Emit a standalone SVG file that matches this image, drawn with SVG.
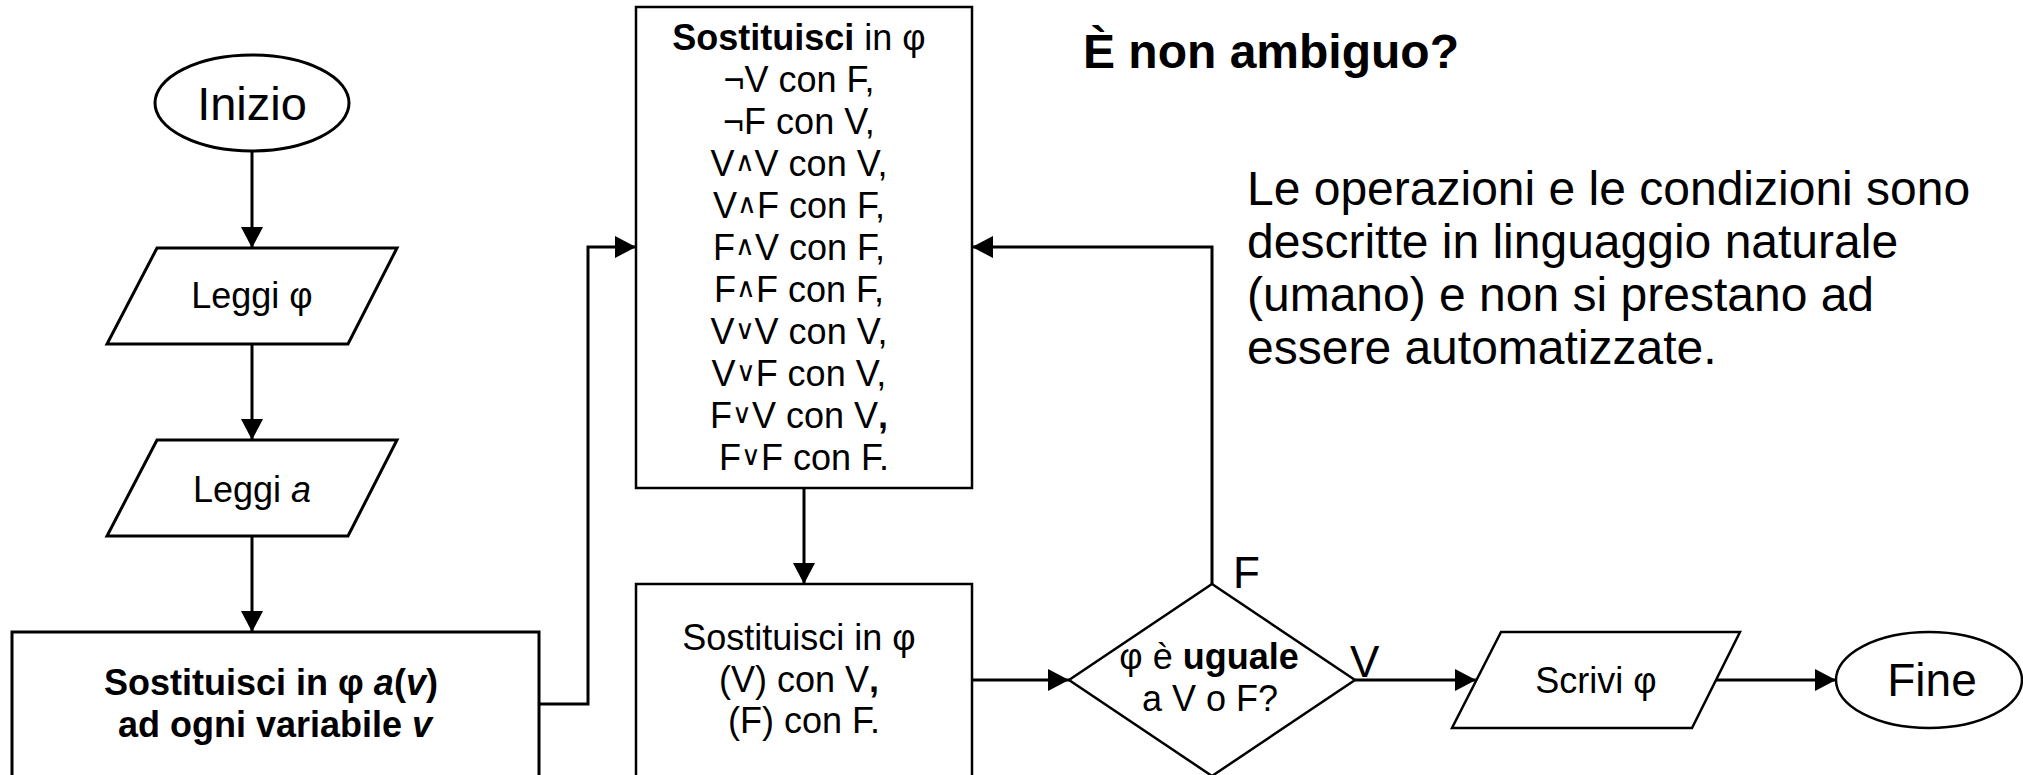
<svg xmlns="http://www.w3.org/2000/svg" width="2023" height="775" viewBox="0 0 2023 775">
<style>
text{font-family:"Liberation Sans",Arial,sans-serif;fill:#000}
.s{fill:#fff;stroke:#000;stroke-width:3}
.t{fill:#fff;stroke:#000;stroke-width:2.5}
.c{fill:none;stroke:#000;stroke-width:3}
.b{font-weight:bold}
.i{font-style:italic}
.op{font-size:27px}
</style>
<defs>
<marker id="ah" markerWidth="22" markerHeight="22" refX="21" refY="11" orient="auto" markerUnits="userSpaceOnUse">
<path d="M0,0 L21,11 L0,22 Z" fill="#000"/>
</marker>
</defs>
<rect width="2023" height="775" fill="#fff"/>

<g id="connectors">
<path class="c" d="M252,151 V248" marker-end="url(#ah)"/>
<path class="c" d="M252,344 V440" marker-end="url(#ah)"/>
<path class="c" d="M252,536 V632" marker-end="url(#ah)"/>
<path class="c" d="M539,704 H588 V247 H636" marker-end="url(#ah)"/>
<path class="c" d="M804,488 V584" marker-end="url(#ah)"/>
<path class="c" d="M972,680 H1069" marker-end="url(#ah)"/>
<path class="c" d="M1212,584 V247 H972" marker-end="url(#ah)"/>
<path class="c" d="M1355,680 H1476" marker-end="url(#ah)"/>
<path class="c" d="M1716,680 H1836" marker-end="url(#ah)"/>
<text x="1233" y="588" font-size="44">F</text>
<text x="1350" y="677" font-size="44">V</text>
</g>

<g id="inizio">
<ellipse class="s" cx="252" cy="103" rx="97" ry="48"/>
<text x="252" y="120" font-size="47" text-anchor="middle">Inizio</text>
</g>

<g id="leggi-phi">
<polygon class="s" points="157,248 397,248 348,344 107,344"/>
<text x="252" y="308" font-size="36" text-anchor="middle">Leggi φ</text>
</g>

<g id="leggi-a">
<polygon class="s" points="157,440 397,440 348,536 107,536"/>
<text x="252" y="502" font-size="36" text-anchor="middle">Leggi <tspan class="i">a</tspan></text>
</g>

<g id="sostituisci-var">
<rect class="s" x="12" y="632" width="527" height="200"/>
<text x="271" y="695" font-size="36" class="b" text-anchor="middle">Sostituisci in φ <tspan class="i">a</tspan>(<tspan class="i">v</tspan>)</text>
<text x="275" y="737" font-size="36" class="b" text-anchor="middle">ad ogni variabile <tspan class="i">v</tspan></text>
</g>

<g id="sostituisci-op">
<rect class="t" x="636" y="7" width="336" height="481"/>
<text font-size="36" text-anchor="middle">
<tspan x="804" y="50"><tspan class="b">Sostituisci</tspan> in φ</tspan>
<tspan x="804" y="92">¬V con F,</tspan>
<tspan x="804" y="134">¬F con V,</tspan>
<tspan x="804" y="176">V<tspan class="op" dy="-5">∧</tspan><tspan dy="5">V con V,</tspan></tspan>
<tspan x="804" y="218">V<tspan class="op" dy="-5">∧</tspan><tspan dy="5">F con F,</tspan></tspan>
<tspan x="804" y="260">F<tspan class="op" dy="-5">∧</tspan><tspan dy="5">V con F,</tspan></tspan>
<tspan x="804" y="302">F<tspan class="op" dy="-5">∧</tspan><tspan dy="5">F con F,</tspan></tspan>
<tspan x="804" y="344">V<tspan class="op" dy="-5">∨</tspan><tspan dy="5">V con V,</tspan></tspan>
<tspan x="804" y="386">V<tspan class="op" dy="-5">∨</tspan><tspan dy="5">F con V,</tspan></tspan>
<tspan x="804" y="428">F<tspan class="op" dy="-5">∨</tspan><tspan dy="5">V con V<tspan class="b">,</tspan></tspan></tspan>
<tspan x="804" y="470">F<tspan class="op" dy="-5">∨</tspan><tspan dy="5">F con F.</tspan></tspan>
</text>
</g>

<g id="sostituisci-par">
<rect class="t" x="636" y="584" width="336" height="250"/>
<text font-size="36" text-anchor="middle">
<tspan x="804" y="650">Sostituisci in φ</tspan>
<tspan x="804" y="692">(V) con V<tspan class="b">,</tspan></tspan>
<tspan x="804" y="733">(F) con F.</tspan>
</text>
</g>

<g id="decisione">
<polygon class="t" points="1212,584 1355,680 1212,776 1069,680"/>
<text x="1209" y="669" font-size="36" text-anchor="middle">φ è <tspan class="b">uguale</tspan></text>
<text x="1210" y="711" font-size="36" text-anchor="middle">a V o F?</text>
</g>

<g id="scrivi">
<polygon class="t" points="1501,632 1740,632 1692,728 1452,728"/>
<text x="1596" y="693" font-size="36" text-anchor="middle">Scrivi φ</text>
</g>

<g id="fine">
<ellipse class="t" cx="1929" cy="680" rx="93" ry="48"/>
<text x="1932" y="696" font-size="46" text-anchor="middle">Fine</text>
</g>

<g id="note">
<text x="1083" y="68" font-size="48" class="b">È non ambiguo?</text>
<text font-size="48">
<tspan x="1247" y="205">Le operazioni e le condizioni sono</tspan>
<tspan x="1247" y="258">descritte in linguaggio naturale</tspan>
<tspan x="1247" y="311">(umano) e non si prestano ad</tspan>
<tspan x="1247" y="364">essere automatizzate.</tspan>
</text>
</g>
</svg>
